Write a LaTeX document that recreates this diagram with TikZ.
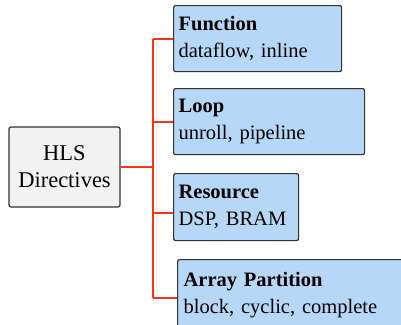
\documentclass[tikz,border=0pt]{standalone}
\usepackage{fontspec}
\setmainfont{Liberation Serif}
\usepackage{tikz}
\usetikzlibrary{positioning}

\definecolor{boxblue}{RGB}{182,215,245}
\definecolor{boxgray}{RGB}{242,242,242}
\definecolor{linkred}{RGB}{250,50,20}
\definecolor{edgegray}{RGB}{50,50,50}

\tikzset{
  rootbox/.style={rectangle, draw=edgegray, line width=1.2pt, fill=boxgray, rounded corners=2pt,
    align=center, minimum width=111pt, minimum height=80pt, inner sep=0pt,
    font=\fontsize{22.5}{27}\selectfont},
  dirbox/.style={rectangle, draw=edgegray, line width=1.2pt, fill=boxblue, rounded corners=2pt,
    align=left, anchor=north west, inner xsep=5pt, inner ysep=0pt},
  link/.style={draw=linkred, line width=2.2pt}
}

\begin{document}
\begin{tikzpicture}[x=1pt, y=1pt, font=\fontsize{20.5}{27}\selectfont]
	\useasboundingbox (0,0) rectangle (401,-324);

		\node[rootbox] (hls) at (64.5,-167) {HLS\\Directives};

		\node[dirbox, text width=158pt, minimum height=66pt] (func) at (173,-5) {\textbf{Function}\\dataflow, inline};

		\node[dirbox, text width=181pt, minimum height=66pt] (loop) at (173,-88) {\textbf{Loop}\\unroll, pipeline};

		\node[dirbox, text width=115pt, minimum height=67pt] (res) at (173,-173) {\textbf{Resource}\\DSP, BRAM};

		\node[dirbox, text width=223pt, inner xsep=6pt, inner ysep=12.5pt] (arr) at (177,-259) {\textbf{Array Partition}\\block, cyclic, complete};

		\coordinate (trunk) at (153,-167);
		\coordinate (trunktop) at (trunk |- func.west);
		\coordinate (trunkbot) at (153,-298);

		\path [link] (hls.east) -- (trunk);
		\path [link] (trunktop) -- (trunkbot);
		\path [link] (trunktop) -- (func.west);
		\path [link] (trunk |- loop.west) -- (loop.west);
		\path [link] (153,-213) -- (res.west |- 0,-213);
		\path [link] (trunkbot) -- (arr.west |- trunkbot);
	\end{tikzpicture}
\end{document}
